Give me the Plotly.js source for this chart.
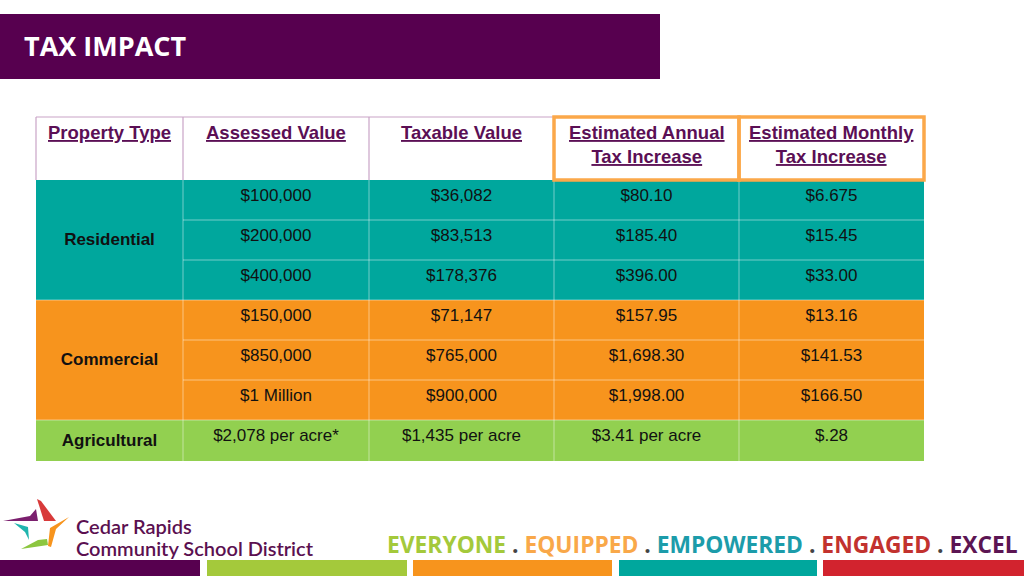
<!DOCTYPE html>
<html>
<head>
<meta charset="utf-8">
<script src="https://cdn.plot.ly/plotly-3.0.1.min.js"></script>
<style>html,body{margin:0;padding:0;background:#fff;}#chart{width:1024px;height:576px;}</style>
</head>
<body>
<div id="chart"></div>
<script>
// ---- data ----
const headers = ['Property Type', 'Assessed Value', 'Taxable Value', 'Estimated Annual<br>Tax Increase', 'Estimated Monthly<br>Tax Increase'];
const propertyTypes = ['Residential', 'Commercial', 'Agricultural'];
const rowGroup = [0, 0, 0, 1, 1, 1, 2];
const assessedValue = ['$100,000', '$200,000', '$400,000', '$150,000', '$850,000', '$1 Million', '$2,078 per acre*'];
const taxableValue = ['$36,082', '$83,513', '$178,376', '$71,147', '$765,000', '$900,000', '$1,435 per acre'];
const annualIncrease = ['$80.10', '$185.40', '$396.00', '$157.95', '$1,698.30', '$1,998.00', '$3.41 per acre'];
const monthlyIncrease = ['$6.675', '$15.45', '$33.00', '$13.16', '$141.53', '$166.50', '$.28'];
const tagline = ['EVERYONE', 'EQUIPPED', 'EMPOWERED', 'ENGAGED', 'EXCEL'];

// ---- layout constants ----
const groupColors = ['#00A79D', '#F7941D', '#92D050'];
const taglineColors = ['#A4C93B', '#F9A849', '#1C9CAA', '#C2322E', '#5C1553'];
const colEdges = [36, 183, 369, 554, 739, 924];
const headTop = 117, headBottom = 180, rowH = 40;
const purple = '#57004F';
const hdrColor = '#5B0F55';

const colMid = i => (colEdges[i] + colEdges[i + 1]) / 2;
const rowTop = r => headBottom + r * rowH;
const rowBottom = r => (r === rowGroup.length - 1) ? rowTop(r) + rowH + 1 : rowTop(r) + rowH;

const shapes = [];
const annotations = [];
const traces = [];

// title bar
shapes.push({type: 'rect', xref: 'x', yref: 'y', x0: 0, x1: 660, y0: 14, y1: 79, fillcolor: purple, line: {width: 0}, layer: 'below'});
annotations.push({x: 22, y: 45, xref: 'x', yref: 'y', xanchor: 'left', yanchor: 'middle', showarrow: false,
  text: '<b>TAX IMPACT</b>', font: {family: 'Open Sans, sans-serif', size: 27, color: '#ffffff'}});

// group backgrounds
propertyTypes.forEach((p, g) => {
  const rows = rowGroup.map((v, i) => v === g ? i : -1).filter(i => i >= 0);
  const y0 = rowTop(rows[0]), y1 = rowBottom(rows[rows.length - 1]);
  shapes.push({type: 'rect', xref: 'x', yref: 'y', x0: colEdges[0], x1: colEdges[5], y0: y0, y1: y1,
    fillcolor: groupColors[g], line: {width: 0}, layer: 'below'});
});
// horizontal separators (value columns) and between groups (all columns)
for (let r = 1; r < rowGroup.length; r++) {
  const newGroup = rowGroup[r] !== rowGroup[r - 1];
  shapes.push({type: 'line', xref: 'x', yref: 'y', x0: newGroup ? colEdges[0] : colEdges[1], x1: colEdges[5],
    y0: rowTop(r), y1: rowTop(r), line: {color: 'rgba(255,255,255,0.45)', width: 1}});
}
// vertical separators in body
for (let c = 1; c < 5; c++) {
  shapes.push({type: 'line', xref: 'x', yref: 'y', x0: colEdges[c], x1: colEdges[c], y0: headBottom, y1: rowBottom(rowGroup.length - 1),
    line: {color: 'rgba(255,255,255,0.45)', width: 1}});
}
// header borders
shapes.push({type: 'line', xref: 'x', yref: 'y', x0: colEdges[0], x1: colEdges[3], y0: headTop, y1: headTop, line: {color: '#C9A3C6', width: 1}});
[0, 1, 2].forEach(c => shapes.push({type: 'line', xref: 'x', yref: 'y', x0: colEdges[c], x1: colEdges[c], y0: headTop, y1: headBottom, line: {color: '#C9A3C6', width: 1.2}}));
[3, 4].forEach(c => shapes.push({type: 'rect', xref: 'x', yref: 'y', x0: colEdges[c], x1: colEdges[c + 1], y0: headTop, y1: headBottom,
  line: {color: '#FBA84A', width: 3.5}, fillcolor: 'rgba(0,0,0,0)'}));

// header texts
headers.forEach((h, c) => {
  const lines = h.split('<br>');
  const t = lines.map(l => '<b><u>' + l + '</u></b>').join('<br>');
  annotations.push({x: colMid(c), y: 120, xref: 'x', yref: 'y', xanchor: 'center', yanchor: 'top', showarrow: false,
    text: t, align: 'center', font: {family: 'Liberation Sans, Arial, sans-serif', size: 18.5, color: hdrColor}});
});

// property type labels
propertyTypes.forEach((p, g) => {
  const rows = rowGroup.map((v, i) => v === g ? i : -1).filter(i => i >= 0);
  const y0 = rowTop(rows[0]), y1 = rowBottom(rows[rows.length - 1]);
  traces.push({type: 'scatter', mode: 'text', x: [colMid(0)], y: [(y0 + y1) / 2 + 1], text: ['<b>' + p + '</b>'],
    textposition: 'middle center', textfont: {family: 'Liberation Sans, Arial, sans-serif', size: 17, color: '#111'}, hoverinfo: 'skip'});
});

// value columns
[assessedValue, taxableValue, annualIncrease, monthlyIncrease].forEach((col, k) => {
  traces.push({type: 'scatter', mode: 'text', x: col.map(() => colMid(k + 1)), y: col.map((v, r) => rowTop(r) + 16.5),
    text: col, textposition: 'middle center', textfont: {family: 'Liberation Sans, Arial, sans-serif', size: 17, color: '#111'}, hoverinfo: 'skip'});
});

// logo star
const star = [
  {c: '#7B1F6E', p: 'M3,521 L30,516 L36,509 L38,521 Z'},
  {c: '#D83A3A', p: 'M37,499 L41,501 L56,521 L44,521 Z'},
  {c: '#F7941D', p: 'M69,517 L56,529 L51,547 L48,546 L50,528 Z'},
  {c: '#8CC63F', p: 'M21,549 L38,540 L47,539 L48,545 Z'},
  {c: '#1FB5AE', p: 'M14,523 L28,527 L29,540 L25,532 Z'}
];
star.forEach(s => shapes.push({type: 'path', xref: 'x', yref: 'y', path: s.p, fillcolor: s.c, line: {width: 0}}));
annotations.push({x: 74, y: 526, xref: 'x', yref: 'y', xanchor: 'left', yanchor: 'middle', showarrow: false,
  text: 'Cedar Rapids', font: {family: 'Lato, sans-serif', size: 20, color: '#5B1050', weight: 600}});
annotations.push({x: 74, y: 548, xref: 'x', yref: 'y', xanchor: 'left', yanchor: 'middle', showarrow: false,
  text: 'Community School District', font: {family: 'Lato, sans-serif', size: 20, color: '#5B1050', weight: 600}});

// tagline
const tagText = tagline.map((w, i) => '<span style="color:' + taglineColors[i] + '">' + w + '</span>').join('<span style="color:#444"> . </span>');
annotations.push({x: 385, y: 544, xref: 'x', yref: 'y', xanchor: 'left', yanchor: 'middle', showarrow: false,
  text: '<b>' + tagText + '</b>', font: {family: 'Open Sans, sans-serif', size: 22.8, color: '#444'}});

// footer bars
const footerBars = [[0, 200, purple], [207, 407, '#A4C93B'], [413, 612, '#F7941D'], [619, 817, '#00A79D'], [823, 1024, '#D2232E']];
footerBars.forEach(b => shapes.push({type: 'rect', xref: 'x', yref: 'y', x0: b[0], x1: b[1], y0: 560, y1: 577, fillcolor: b[2], line: {width: 0}}));

const layout = {
  width: 1024, height: 576,
  margin: {l: 0, r: 0, t: 0, b: 0, pad: 0},
  paper_bgcolor: '#ffffff', plot_bgcolor: '#ffffff',
  showlegend: false,
  xaxis: {range: [0, 1024], visible: false, fixedrange: true},
  yaxis: {range: [576, 0], visible: false, fixedrange: true},
  shapes: shapes, annotations: annotations
};
Plotly.newPlot('chart', traces, layout, {displayModeBar: false, staticPlot: true});
</script>
</body>
</html>
